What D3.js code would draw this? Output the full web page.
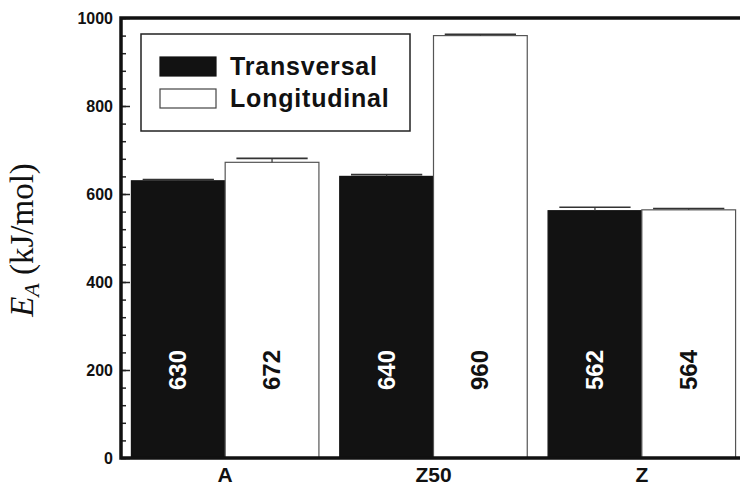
<!DOCTYPE html>
<html>
<head>
<meta charset="utf-8">
<script src="https://cdn.jsdelivr.net/npm/d3@7"></script>
<style>
  body { margin: 0; background: #fff; }
  svg { display: block; }
</style>
</head>
<body>
<svg id="chart" width="740" height="487"></svg>
<script>
var categories = ["A", "Z50", "Z"];
var seriesNames = ["Transversal", "Longitudinal"];
var transversal = [630, 640, 562];
var longitudinal = [672, 960, 564];
var transversalErr = [3, 4, 8];
var longitudinalErr = [9, 3, 3];
var yTicks = [0, 200, 400, 600, 800, 1000];

var svg = d3.select("#chart");
var plotLeft = 121, plotRight = 746, plotTop = 18, plotBottom = 458;

var x = d3.scaleBand().domain(categories).range([plotLeft, plotRight]).paddingInner(0.1).paddingOuter(0.05);
var xSub = d3.scaleBand().domain(seriesNames).range([0, x.bandwidth()]);
var y = d3.scaleLinear().domain([0, 1000]).range([plotBottom, plotTop]);

var rows = [];
categories.forEach(function(c, i) {
  rows.push({cat: c, s: "Transversal", v: transversal[i], e: transversalErr[i]});
  rows.push({cat: c, s: "Longitudinal", v: longitudinal[i], e: longitudinalErr[i]});
});

// bars
var g = svg.append("g");
g.selectAll("rect.bar").data(rows).enter()
  .append("rect")
  .attr("class", "bar")
  .attr("x", function(d) { return x(d.cat) + xSub(d.s); })
  .attr("y", function(d) { return y(d.v); })
  .attr("width", xSub.bandwidth())
  .attr("height", function(d) { return y(0) - y(d.v); })
  .attr("fill", function(d) { return d.s == "Transversal" ? "#121212" : "#fff"; })
  .attr("stroke", function(d) { return d.s == "Transversal" ? "#121212" : "#555"; })
  .attr("stroke-width", 1.2);

// error bars (upper only)
var capW = xSub.bandwidth() * 0.76;
rows.forEach(function(d) {
  var cx = x(d.cat) + xSub(d.s) + xSub.bandwidth() / 2;
  g.append("line")
    .attr("x1", cx).attr("x2", cx)
    .attr("y1", y(d.v)).attr("y2", y(d.v + d.e))
    .attr("stroke", "#333").attr("stroke-width", 1.2);
  g.append("line")
    .attr("x1", cx - capW / 2).attr("x2", cx + capW / 2)
    .attr("y1", y(d.v + d.e)).attr("y2", y(d.v + d.e))
    .attr("stroke", "#333").attr("stroke-width", 1.6);
});

// value labels
g.selectAll("text.val").data(rows).enter()
  .append("text")
  .attr("class", "val")
  .attr("transform", function(d) {
    var cx = x(d.cat) + xSub(d.s) + xSub.bandwidth() / 2;
    return "translate(" + (cx + 8) + "," + y(200) + ") rotate(-90)";
  })
  .attr("text-anchor", "middle")
  .attr("font-family", "Liberation Sans, Arial, sans-serif")
  .attr("font-weight", "bold")
  .attr("font-size", 24)
  .attr("fill", function(d) { return d.s == "Transversal" ? "#fff" : "#111"; })
  .text(function(d) { return d.v; });

// axes
var yMinor = d3.range(0, 1001, 40);
svg.append("g")
  .attr("transform", "translate(" + plotLeft + ",0)")
  .call(d3.axisRight(y).tickValues(yMinor).tickSize(5).tickFormat(""))
  .call(function(s) { s.select(".domain").remove(); s.selectAll("line").attr("stroke", "#222").attr("stroke-width", 1.5); });
svg.append("g")
  .attr("transform", "translate(" + plotLeft + ",0)")
  .call(d3.axisRight(y).tickValues(yTicks).tickSize(9).tickFormat(""))
  .call(function(s) { s.select(".domain").remove(); s.selectAll("line").attr("stroke", "#222").attr("stroke-width", 1.5); });
svg.append("g")
  .attr("transform", "translate(" + (plotLeft - 8) + ",0)")
  .call(d3.axisLeft(y).tickValues(yTicks).tickSize(0).tickPadding(0).tickFormat(d3.format("d")))
  .call(function(s) {
    s.select(".domain").remove();
    s.selectAll("text").attr("font-family", "Liberation Sans, Arial, sans-serif")
      .attr("font-weight", "bold").attr("font-size", 16).attr("fill", "#111");
  });
svg.append("g")
  .attr("transform", "translate(0," + plotBottom + ")")
  .call(d3.axisBottom(x).tickSize(0).tickPadding(9))
  .call(function(s) {
    s.select(".domain").remove();
    s.selectAll("text").attr("font-family", "Liberation Sans, Arial, sans-serif")
      .attr("font-weight", "bold").attr("font-size", 21).attr("fill", "#111")
      .attr("dy", "0.72em");
  });

// frame
svg.append("rect")
  .attr("x", plotLeft).attr("y", plotTop)
  .attr("width", plotRight - plotLeft).attr("height", plotBottom - plotTop)
  .attr("fill", "none").attr("stroke", "#111").attr("stroke-width", 3.5);

// legend
var leg = svg.append("g");
leg.append("rect").attr("x", 141).attr("y", 34).attr("width", 269).attr("height", 97)
  .attr("fill", "#fff").attr("stroke", "#222").attr("stroke-width", 1.5);
seriesNames.forEach(function(s, i) {
  var yy = 57 + i * 32;
  leg.append("rect").attr("x", 160).attr("y", yy).attr("width", 56).attr("height", 19)
    .attr("fill", i == 0 ? "#121212" : "#fff").attr("stroke", i == 0 ? "#121212" : "#444").attr("stroke-width", 1.2);
  leg.append("text").attr("x", 230).attr("y", yy + 18)
    .attr("font-family", "Liberation Sans, Arial, sans-serif")
    .attr("font-weight", "bold").attr("font-size", 25).attr("letter-spacing", 0.8).attr("fill", "#111")
    .text(s);
});

// y title
var t = svg.append("text")
  .attr("transform", "translate(33,240) rotate(-90)")
  .attr("text-anchor", "middle")
  .attr("font-family", "Liberation Serif, Times New Roman, serif")
  .attr("font-size", 33).attr("fill", "#111");
t.append("tspan").attr("font-style", "italic").text("E");
t.append("tspan").attr("font-style", "italic").attr("font-size", 22).attr("dy", 6).text("A");
t.append("tspan").attr("dy", -6).text(" (kJ/mol)");
</script>
</body>
</html>
